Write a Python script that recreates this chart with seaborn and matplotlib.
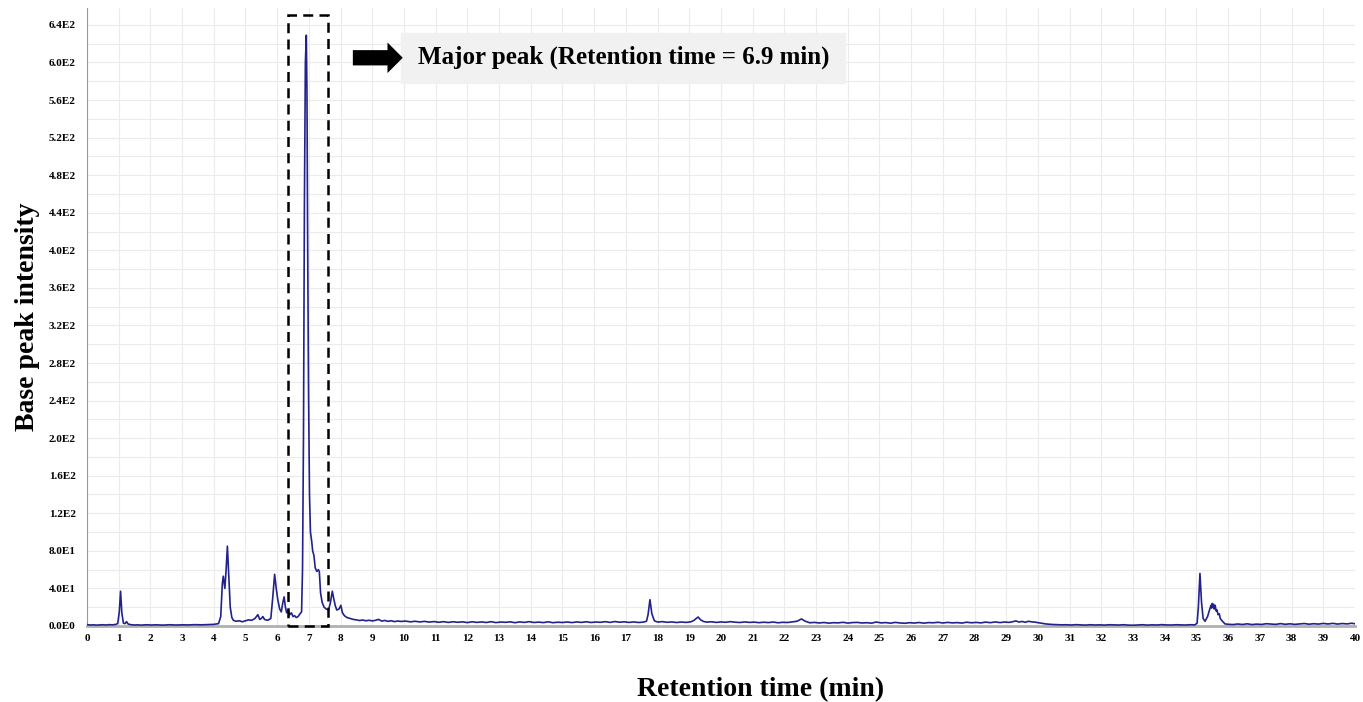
import matplotlib
matplotlib.use("Agg")
import matplotlib.pyplot as plt
from matplotlib.patches import Rectangle
import seaborn as sns
import pandas as pd

# ---- data, (retention time [min], intensity) ----
early_segment = [
    (0.0, 1.5), (0.1, 1.0), (0.2, 1.2), (0.3, 0.9), (0.4, 1.1), (0.5, 1.3), (0.6, 1.0), (0.7, 1.4),
    (0.8, 1.2), (0.9, 1.6), (0.97, 2.5), (1.02, 15), (1.06, 37), (1.10, 14), (1.15, 3), (1.2, 2.5),
    (1.25, 4.6), (1.3, 2.0), (1.4, 1.3), (1.5, 1.0), (1.6, 1.2), (1.7, 0.9), (1.8, 1.1), (1.9, 1.3),
    (2.0, 1.0), (2.2, 1.2), (2.4, 0.9), (2.6, 1.3), (2.8, 1.0), (3.0, 1.2), (3.2, 1.1), (3.4, 1.4),
    (3.6, 1.2), (3.8, 1.5), (4.0, 1.7), (4.15, 2.5),
]
major_segment = [
    (4.22, 10), (4.27, 45), (4.30, 53), (4.35, 40), (4.39, 60), (4.43, 85), (4.47, 55), (4.52, 20),
    (4.57, 9), (4.62, 6), (4.7, 5), (4.8, 5.5), (4.9, 4.5), (5.0, 5.5), (5.1, 6.5), (5.2, 6),
    (5.3, 8), (5.39, 12), (5.45, 7), (5.5, 8), (5.55, 10), (5.6, 7), (5.7, 6), (5.8, 8),
    (5.86, 30), (5.92, 55), (5.97, 40), (6.02, 28), (6.08, 18), (6.13, 15), (6.18, 25), (6.22, 31),
    (6.26, 20), (6.3, 14), (6.35, 17), (6.4, 12), (6.45, 14), (6.5, 10), (6.55, 11), (6.6, 9),
    (6.66, 10), (6.72, 13), (6.77, 15), (6.80, 60), (6.83, 200), (6.86, 450), (6.89, 600),
    (6.92, 629), (6.94, 570), (6.96, 420), (6.99, 250), (7.02, 140), (7.05, 100), (7.09, 90),
    (7.12, 80), (7.16, 75), (7.2, 62), (7.25, 58), (7.3, 60), (7.33, 58), (7.37, 35), (7.42, 25),
    (7.48, 20), (7.55, 18), (7.62, 17), (7.68, 25), (7.74, 37), (7.78, 30), (7.83, 22), (7.88, 17),
    (7.95, 18), (8.01, 22), (8.06, 14), (8.12, 11), (8.2, 9), (8.3, 8), (8.4, 7), (8.5, 6.5),
]
middle_segment = [
    (8.6, 5.8), (8.7, 6.4), (8.8, 5.5), (8.9, 6.1), (9.0, 5.4), (9.1, 6.0), (9.2, 7.0), (9.3, 5.2),
    (9.4, 5.9), (9.5, 4.9), (9.6, 5.6), (9.7, 4.6), (9.8, 5.3), (9.9, 4.8), (10.05, 5.2),
    (10.2, 4.4), (10.35, 5.0), (10.5, 4.3), (10.65, 4.9), (10.8, 4.1), (10.95, 4.7), (11.1, 3.9),
    (11.25, 4.6), (11.4, 3.8), (11.55, 4.5), (11.7, 3.9), (11.85, 4.4), (12.0, 3.6), (12.15, 4.5),
    (12.3, 3.8), (12.45, 4.3), (12.6, 3.7), (12.75, 4.6), (12.9, 3.6), (13.05, 4.2), (13.2, 3.9),
    (13.35, 4.4), (13.5, 3.5), (13.65, 4.3), (13.8, 3.8), (13.95, 4.6), (14.1, 3.7), (14.25, 4.1),
    (14.4, 3.6), (14.55, 4.4), (14.7, 3.5), (14.85, 4.0), (15.0, 3.7), (15.15, 4.2), (15.3, 3.6),
    (15.45, 4.3), (15.6, 3.8), (15.75, 4.5), (15.9, 3.7), (16.05, 4.2), (16.2, 3.9), (16.35, 4.6),
    (16.5, 3.8), (16.65, 4.7), (16.8, 4.0), (16.95, 4.4), (17.1, 3.8), (17.25, 4.3), (17.4, 3.7),
    (17.55, 4.1), (17.65, 5.0), (17.7, 12), (17.76, 28), (17.82, 13), (17.9, 5.5), (18.0, 4.2),
    (18.15, 4.6), (18.3, 3.9), (18.45, 4.3), (18.6, 3.7), (18.75, 4.2), (18.9, 3.8), (19.05, 4.4),
    (19.15, 6.0), (19.22, 8.0), (19.28, 9.5), (19.36, 6.5), (19.45, 4.8), (19.55, 4.1),
    (19.7, 4.5), (19.85, 3.8), (20.0, 4.3), (20.15, 3.9), (20.3, 4.6), (20.45, 4.0), (20.6, 3.7),
    (20.75, 4.3), (20.9, 3.8), (21.05, 4.1), (21.2, 3.5), (21.35, 4.0), (21.5, 3.6), (21.65, 4.2),
    (21.8, 3.4), (21.95, 3.9), (22.1, 3.7), (22.25, 4.4), (22.4, 5.0), (22.54, 7.5), (22.65, 5.2),
    (22.8, 3.4), (22.95, 3.8), (23.1, 3.2), (23.25, 3.7), (23.4, 3.0), (23.55, 3.5), (23.7, 3.3),
    (23.85, 3.9), (24.0, 3.1), (24.15, 3.6), (24.3, 3.8), (24.45, 3.2), (24.6, 3.5), (24.75, 3.0),
    (24.9, 4.2), (25.05, 3.3), (25.2, 3.6), (25.35, 3.0), (25.5, 3.8), (25.65, 3.2), (25.8, 2.9),
    (25.95, 3.5), (26.1, 3.1), (26.25, 3.7), (26.4, 3.0), (26.55, 3.6), (26.7, 3.4), (26.85, 3.9),
    (27.0, 3.2), (27.15, 3.8), (27.3, 3.3), (27.45, 3.6), (27.6, 3.1), (27.75, 4.0), (27.9, 3.4),
    (28.05, 3.8), (28.2, 3.3), (28.35, 4.1), (28.5, 3.5), (28.65, 4.3), (28.8, 3.6), (28.95, 4.2),
    (29.1, 3.8), (29.2, 4.5), (29.3, 5.4), (29.4, 4.2), (29.5, 4.8), (29.6, 3.9), (29.7, 5.0),
    (29.8, 4.4), (29.9, 4.1), (30.0, 3.6), (30.1, 3.0), (30.2, 2.4), (30.3, 2.0),
]
late_segment = [
    (30.45, 1.6), (30.6, 1.4), (30.75, 1.2), (30.9, 1.3), (31.05, 1.0), (31.2, 1.4), (31.35, 1.1),
    (31.5, 0.9), (31.65, 1.3), (31.8, 1.0), (31.95, 1.2), (32.1, 0.9), (32.25, 1.3), (32.4, 1.1),
    (32.55, 1.0), (32.7, 1.3), (32.85, 0.9), (33.0, 0.8), (33.15, 1.1), (33.3, 1.3), (33.45, 0.9),
    (33.6, 1.2), (33.75, 1.0), (33.9, 1.4), (34.05, 1.1), (34.2, 1.0), (34.35, 1.3), (34.5, 1.1),
    (34.65, 1.0), (34.8, 1.3), (34.95, 1.2), (35.02, 3.0), (35.06, 20), (35.11, 56), (35.16, 25),
    (35.21, 8), (35.27, 5), (35.35, 10), (35.42, 18), (35.46, 22), (35.48, 19), (35.5, 24),
    (35.52, 20), (35.54, 23), (35.56, 18), (35.59, 22), (35.62, 16), (35.65, 17), (35.68, 12),
    (35.72, 13), (35.75, 8), (35.82, 5), (35.9, 2.2), (36.0, 1.8), (36.15, 1.5), (36.3, 2.1),
    (36.45, 1.6), (36.6, 2.3), (36.75, 1.5), (36.9, 2.0), (37.05, 1.6), (37.2, 2.4), (37.35, 2.1),
    (37.5, 1.7), (37.65, 2.5), (37.8, 1.8), (37.95, 2.3), (38.1, 1.7), (38.25, 2.2), (38.4, 2.6),
    (38.55, 1.9), (38.7, 2.4), (38.85, 2.0), (39.0, 2.7), (39.15, 2.1), (39.3, 2.8), (39.45, 2.0),
    (39.6, 2.6), (39.75, 2.2), (39.9, 2.9), (40.0, 2.3),
]
x_ticks = list(range(0, 41))
y_ticks = [0, 40, 80, 120, 160, 200, 240, 280, 320, 360, 400, 440, 480, 520, 560, 600, 640]
y_tick_labels = ["0.0E0", "4.0E1", "8.0E1", "1.2E2", "1.6E2", "2.0E2", "2.4E2", "2.8E2", "3.2E2",
                 "3.6E2", "4.0E2", "4.4E2", "4.8E2", "5.2E2", "5.6E2", "6.0E2", "6.4E2"]
annotation_text = "Major peak (Retention time = 6.9 min)"
major_peak_window = (6.34, 7.60)

df = pd.DataFrame(early_segment + major_segment + middle_segment + late_segment,
                  columns=["time", "intensity"])

sns.set_style("white")
plt.rcParams["font.family"] = ["Liberation Serif", "DejaVu Serif"]
plt.rcParams["text.color"] = "black"
plt.rcParams["axes.labelcolor"] = "black"
plt.rcParams["xtick.color"] = "black"
plt.rcParams["ytick.color"] = "black"

fig = plt.figure(figsize=(13.63, 7.02), dpi=100)
ax = fig.add_axes([0.0638, 0.1083, 0.9303, 0.8803])

# grid
for xv in x_ticks:
    ax.axvline(xv, color="#ebebeb", lw=0.8, zorder=0)
for yv in range(20, 660, 20):
    ax.axhline(yv, color="#ebebeb", lw=0.8, zorder=0)

sns.lineplot(data=df, x="time", y="intensity", ax=ax, color="#22228c",
             lw=1.2, estimator=None, sort=False, zorder=3)

ax.set_xlim(0, 40)
ax.set_ylim(0, 658)
ax.set_xticks(x_ticks)
ax.set_xticklabels([str(v) for v in x_ticks], fontsize=8, fontweight="bold")
ax.set_yticks(y_ticks)
ax.set_yticklabels(y_tick_labels, fontsize=8, fontweight="bold")
ax.tick_params(axis="x", length=0, pad=6)
ax.tick_params(axis="y", length=0, pad=8)

for s in ["top", "right"]:
    ax.spines[s].set_visible(False)
ax.spines["left"].set_color("#9a9a9a")
ax.spines["left"].set_linewidth(0.8)
ax.spines["bottom"].set_color("#b0b0b0")
ax.spines["bottom"].set_linewidth(2)

ax.set_xlabel("Retention time (min)", fontsize=20, fontweight="bold")
ax.xaxis.label.set_verticalalignment("center")
ax.xaxis.set_label_coords(0.5315, -0.1036)
ax.set_ylabel("Base peak intensity", fontsize=20, fontweight="bold", labelpad=6)

# dashed rectangle around major peak
ax.add_patch(Rectangle((major_peak_window[0], 0), major_peak_window[1] - major_peak_window[0], 651,
                       fill=False, ls=(0, (4, 2.5)), lw=1.8, ec="black", zorder=4, clip_on=False))

# label background box
ax.add_patch(Rectangle((9.9, 578), 14.0, 53, color="#f1f1f1", zorder=1))

# arrow
ax.annotate("", xy=(10.05, 605), xytext=(8.3, 605),
            arrowprops=dict(arrowstyle="simple,head_length=1.1,head_width=2.2,tail_width=1.1",
                            color="black", lw=0), zorder=5)
ax.text(16.94, 606, annotation_text, fontsize=18, fontweight="bold", ha="center", va="center",
        zorder=5)

ax.set_facecolor("white")
fig.savefig("out.png", dpi=100)
